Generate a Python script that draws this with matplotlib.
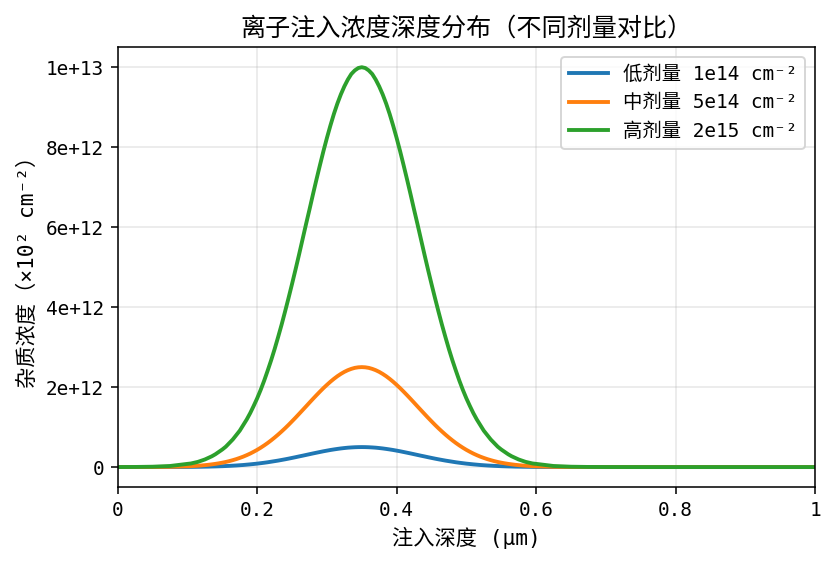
import numpy as np
import matplotlib
matplotlib.use('Agg')
import matplotlib.pyplot as plt
from matplotlib.ticker import FuncFormatter

# Latin from a mono face (the original looks like SimHei), CJK falls back to Noto
plt.rcParams['font.family'] = ['DejaVu Sans Mono', 'Noto Sans CJK SC']
plt.rcParams['axes.unicode_minus'] = False

# depth in um: coarse in the tails, fine (0.005) across the peak region
depth = np.concatenate([[0.0, 0.025, 0.05, 0.075],
                        np.linspace(0.1, 0.6, 101),
                        [0.625, 0.65, 0.675, 0.7, 0.75, 0.8, 0.85, 0.9, 0.95, 1.0]])

# concentration, units of 1e12
high_dose = [0.001, 0.003, 0.009, 0.027,
             0.08, 0.09, 0.11, 0.13, 0.16, 0.19, 0.23, 0.27, 0.32, 0.38,
             0.44, 0.51, 0.60, 0.69, 0.80, 0.91, 1.05, 1.19, 1.35, 1.53,
             1.72, 1.93, 2.16, 2.41, 2.67, 2.95, 3.25, 3.56, 3.89, 4.23,
             4.58, 4.94, 5.31, 5.69, 6.07, 6.44, 6.82, 7.19, 7.55, 7.90,
             8.23, 8.54, 8.83, 9.09, 9.32, 9.52, 9.69, 9.83, 9.92, 9.98,
             10.00,
             9.98, 9.92, 9.83, 9.69, 9.52, 9.32, 9.09, 8.83, 8.54, 8.23,
             7.90, 7.55, 7.19, 6.82, 6.44, 6.07, 5.69, 5.31, 4.94, 4.58,
             4.23, 3.89, 3.56, 3.25, 2.95, 2.67, 2.41, 2.16, 1.93, 1.72,
             1.53, 1.35, 1.19, 1.05, 0.91, 0.80, 0.69, 0.60, 0.51, 0.44,
             0.38, 0.32, 0.27, 0.23, 0.19, 0.16, 0.13, 0.11, 0.09, 0.08,
             0.027, 0.009, 0.003, 0.001, 0.0, 0.0, 0.0, 0.0, 0.0, 0.0]
mid_dose = [0.0002, 0.0007, 0.0022, 0.0068,
            0.019, 0.023, 0.028, 0.033, 0.040, 0.048, 0.057, 0.068, 0.080, 0.094,
            0.110, 0.128, 0.149, 0.173, 0.199, 0.229, 0.261, 0.298, 0.338, 0.383,
            0.431, 0.484, 0.541, 0.602, 0.668, 0.738, 0.812, 0.890, 0.971, 1.056,
            1.145, 1.235, 1.328, 1.422, 1.516, 1.611, 1.705, 1.797, 1.887, 1.974,
            2.056, 2.134, 2.206, 2.272, 2.330, 2.381, 2.423, 2.456, 2.481, 2.495,
            2.500,
            2.495, 2.481, 2.456, 2.423, 2.381, 2.330, 2.272, 2.206, 2.134, 2.056,
            1.974, 1.887, 1.797, 1.705, 1.611, 1.516, 1.422, 1.328, 1.235, 1.145,
            1.056, 0.971, 0.890, 0.812, 0.738, 0.668, 0.602, 0.541, 0.484, 0.431,
            0.383, 0.338, 0.298, 0.261, 0.229, 0.199, 0.173, 0.149, 0.128, 0.110,
            0.094, 0.080, 0.068, 0.057, 0.048, 0.040, 0.033, 0.028, 0.023, 0.019,
            0.0068, 0.0022, 0.0007, 0.0002, 0.0, 0.0, 0.0, 0.0, 0.0, 0.0]
low_dose = [0.0, 0.0001, 0.0004, 0.0014,
            0.004, 0.005, 0.006, 0.007, 0.008, 0.010, 0.011, 0.014, 0.016, 0.019,
            0.022, 0.026, 0.030, 0.035, 0.040, 0.046, 0.052, 0.060, 0.068, 0.077,
            0.086, 0.097, 0.108, 0.120, 0.134, 0.148, 0.162, 0.178, 0.194, 0.211,
            0.229, 0.247, 0.266, 0.284, 0.303, 0.322, 0.341, 0.359, 0.377, 0.395,
            0.411, 0.427, 0.441, 0.454, 0.466, 0.476, 0.485, 0.491, 0.496, 0.499,
            0.500,
            0.499, 0.496, 0.491, 0.485, 0.476, 0.466, 0.454, 0.441, 0.427, 0.411,
            0.395, 0.377, 0.359, 0.341, 0.322, 0.303, 0.284, 0.266, 0.247, 0.229,
            0.211, 0.194, 0.178, 0.162, 0.148, 0.134, 0.120, 0.108, 0.097, 0.086,
            0.077, 0.068, 0.060, 0.052, 0.046, 0.040, 0.035, 0.030, 0.026, 0.022,
            0.019, 0.016, 0.014, 0.011, 0.010, 0.008, 0.007, 0.006, 0.005, 0.004,
            0.0014, 0.0004, 0.0001, 0.0, 0.0, 0.0, 0.0, 0.0, 0.0, 0.0]
labels = ['低剂量 1e14 cm⁻²', '中剂量 5e14 cm⁻²', '高剂量 2e15 cm⁻²']

DPI = 139.17
fig, ax = plt.subplots(figsize=(835 / DPI, 569 / DPI), dpi=DPI)
for ys, lab in zip([low_dose, mid_dose, high_dose], labels):
    ax.plot(depth, np.array(ys) * 1e12, lw=2, label=lab)

ax.set_xlim(0, 1)
ax.xaxis.set_major_formatter(FuncFormatter(lambda v, p: '%g' % v))
ax.yaxis.set_major_formatter(FuncFormatter(lambda v, p: '0' if v == 0 else '%.0e' % v))
ax.tick_params(labelsize=10)
ax.grid(True, alpha=0.3)
ax.set_xlabel('注入深度 (μm)', fontsize=11)
ax.set_ylabel('杂质浓度（×10² cm⁻²）', fontsize=11)
ax.set_title('离子注入浓度深度分布（不同剂量对比）', fontsize=13)
ax.legend(loc='upper right', fontsize=10)

plt.subplots_adjust(left=0.141, right=0.976, top=0.917, bottom=0.144)
plt.savefig('out.png', dpi=DPI)
